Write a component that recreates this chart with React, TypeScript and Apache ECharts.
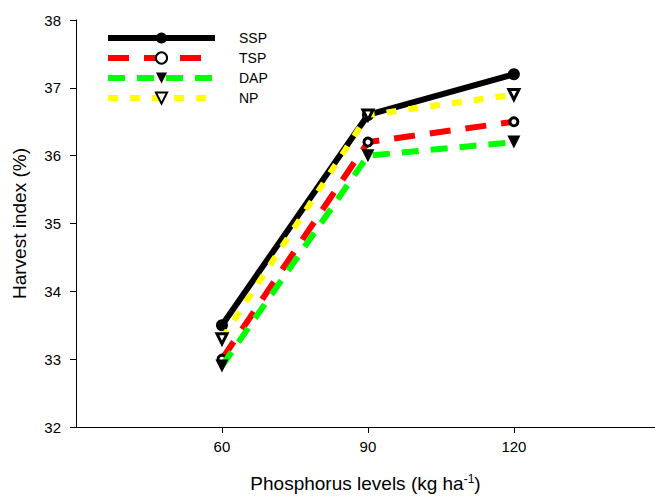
import React, { useEffect, useRef } from "react";
import * as echarts from "echarts";

const levels = [60, 90, 120];
const ssp = [33.5, 36.6, 37.2];
const tsp = [33.0, 36.2, 36.5];
const dap = [32.9, 36.0, 36.2];
const np = [33.3, 36.6, 36.9];
const yTicks = [32, 33, 34, 35, 36, 37, 38];

const FONT = "Liberation Sans, Arial, sans-serif";

export default function App() {
  const ref = useRef<HTMLDivElement>(null);
  useEffect(() => {
    if (!ref.current) return;
    const chart = echarts.init(ref.current, null, { renderer: "svg" });
    const pts = (v: number[]) => levels.map((x, i) => [x, v[i]]);
    chart.setOption({
      animation: false,
      textStyle: { fontFamily: FONT },
      grid: { left: 76, right: 0, top: 20, bottom: 69, containLabel: false, outerBoundsMode: "none" },
      legend: {
        orient: "vertical",
        left: 100,
        top: 26,
        itemWidth: 107,
        itemHeight: 14,
        itemGap: 6,
        lineStyle: { width: "inherit" },
        textStyle: { fontSize: 14, color: "#000", fontFamily: FONT, padding: [0, 0, 0, 19] },
        data: ["SSP", "TSP", "DAP", "NP"],
      },
      xAxis: {
        type: "value",
        min: 30,
        max: 149,
        name: "Phosphorus levels (kg ha{sup|-1})",
        nameLocation: "middle",
        nameGap: 46,
        nameTextStyle: {
          fontSize: 19,
          color: "#000",
          fontFamily: FONT,
          rich: { sup: { fontSize: 12, verticalAlign: "top", padding: [0, 0, 9, 0], fontFamily: FONT, color: "#000" } },
        },
        axisLine: { lineStyle: { color: "#000", width: 1 } },
        axisTick: { show: true, length: 6, customValues: levels, lineStyle: { color: "#000" } },
        axisLabel: { customValues: levels, fontSize: 15, color: "#000", margin: 12, fontFamily: FONT },
        splitLine: { show: false },
      },
      yAxis: {
        type: "value",
        min: 32,
        max: 38,
        interval: 1,
        name: "Harvest index (%)",
        nameLocation: "middle",
        nameGap: 47,
        nameTextStyle: { fontSize: 19, color: "#000", fontFamily: FONT },
        axisLine: { show: true, lineStyle: { color: "#000", width: 1 } },
        axisTick: { show: true, length: 6, lineStyle: { color: "#000" } },
        axisLabel: {
          fontSize: 15,
          color: "#000",
          margin: 15,
          fontFamily: FONT,
          formatter: (v: number) => (yTicks.includes(v) ? String(v) : ""),
        },
        splitLine: { show: false },
      },
      series: [
        {
          name: "SSP",
          type: "line",
          data: pts(ssp),
          symbol: "circle",
          symbolSize: 12,
          itemStyle: { color: "#000" },
          lineStyle: { color: "#000", width: 6 },
          z: 2,
        },
        {
          name: "TSP",
          type: "line",
          data: pts(tsp),
          symbol: "circle",
          symbolSize: 8,
          itemStyle: { color: "#fff", borderColor: "#000", borderWidth: 3 },
          lineStyle: { color: "#ff0000", width: 6, type: [21, 15], cap: "butt" },
          z: 3,
        },
        {
          name: "DAP",
          type: "line",
          data: pts(dap),
          symbol: "triangle",
          symbolRotate: 180,
          symbolSize: 13,
          itemStyle: { color: "#000" },
          lineStyle: { color: "#00ff00", width: 6, type: [17, 12], cap: "butt" },
          z: 4,
        },
        {
          name: "NP",
          type: "line",
          data: pts(np),
          symbol: "triangle",
          symbolRotate: 180,
          symbolSize: 10,
          itemStyle: { color: "#fff", borderColor: "#000", borderWidth: 3 },
          lineStyle: { color: "#ffff00", width: 6, type: [10, 12], cap: "butt" },
          z: 5,
        },
      ],
    });
    return () => chart.dispose();
  }, []);
  return <div ref={ref} style={{ width: 655, height: 496, position: "absolute", left: 0, top: 0, background: "#fff" }} />;
}
